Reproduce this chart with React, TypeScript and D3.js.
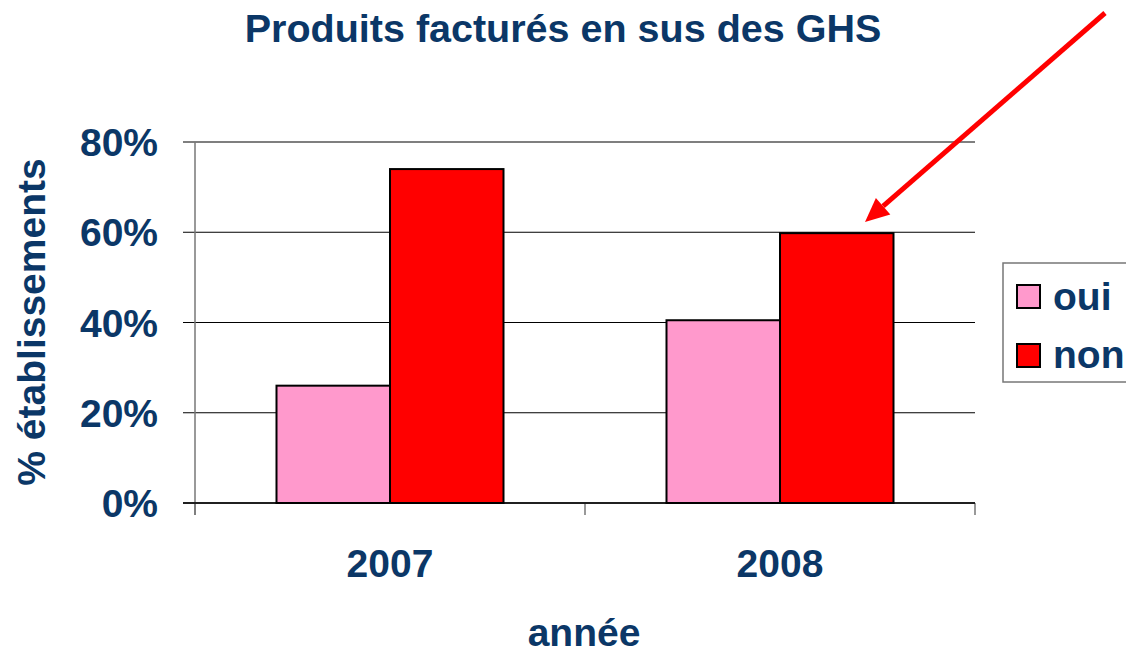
import React from "react";
import * as d3 from "d3";

const years = ["2007", "2008"];
const seriesNames = ["oui", "non"];
const ouiValues = [0.26, 0.405];
const nonValues = [0.74, 0.598];
const yTicks = [0, 0.2, 0.4, 0.6, 0.8];
const seriesColors = ["#ff99cc", "#ff0000"];

const W = 1126;
const H = 654;
const NAVY = "#0b3767";
const FONT = "'Liberation Sans', Arial, sans-serif";

export default function App() {
  const left = 195;
  const right = 975;
  const bottom = 503;
  const top = 142;
  const x0 = d3.scaleBand<string>().domain(years).range([left, right]).padding(0);
  const groupW = 227;
  const x1 = d3.scaleBand<string>().domain(seriesNames).range([0, groupW]).padding(0);
  const y = d3.scaleLinear().domain([0, 0.8]).range([bottom, top]);
  const fmt = d3.format(".0%");
  const values = [ouiValues, nonValues];

  const ax1 = 1105, ay1 = 13, ax2 = 865, ay2 = 222;
  const ang = Math.atan2(ay2 - ay1, ax2 - ax1);
  const headL = 24, headW = 11;
  const bx = ax2 - headL * Math.cos(ang);
  const by = ay2 - headL * Math.sin(ang);
  const px = -Math.sin(ang), py = Math.cos(ang);
  const head = `M${ax2},${ay2} L${bx + headW * px},${by + headW * py} L${bx - headW * px},${by - headW * py} Z`;

  return (
    <svg width={W} height={H} style={{ position: "absolute", left: 0, top: 0, background: "#fff" }} fontFamily={FONT}>
      <rect x={0} y={0} width={W} height={H} fill="#fff" />
      <text x={563} y={42} textAnchor="middle" fontSize={39.5} fontWeight="bold" fill={NAVY}>
        Produits facturés en sus des GHS
      </text>

      {/* gridlines */}
      {yTicks.map((t) => (
        <line key={t} x1={183} x2={right} y1={y(t)} y2={y(t)} stroke="#000" strokeWidth={1.2} />
      ))}
      {/* y axis */}
      <line x1={left} x2={left} y1={top} y2={515} stroke="#777" strokeWidth={1.5} />
      {/* x ticks */}
      {[left, x0("2008")!, right].map((xx, i) => (
        <line key={i} x1={xx} x2={xx} y1={bottom} y2={515} stroke="#777" strokeWidth={1.5} />
      ))}

      {/* bars */}
      {years.map((yr, i) => {
        const off = x0(yr)! + (x0.bandwidth() - groupW) / 2;
        return seriesNames.map((s, j) => (
          <rect
            key={yr + s}
            x={off + x1(s)!}
            y={y(values[j][i])}
            width={x1.bandwidth()}
            height={bottom - y(values[j][i])}
            fill={seriesColors[j]}
            stroke="#000"
            strokeWidth={2}
          />
        ));
      })}
      <line x1={183} x2={right} y1={bottom} y2={bottom} stroke="#000" strokeWidth={1.5} />

      {/* y tick labels */}
      {yTicks.map((t) => (
        <text key={t} x={158} y={y(t)} dy="0.36em" textAnchor="end" fontSize={39} fontWeight="bold" fill={NAVY}>
          {fmt(t)}
        </text>
      ))}
      {/* x labels */}
      {years.map((yr) => (
        <text key={yr} x={x0(yr)! + x0.bandwidth() / 2} y={577} textAnchor="middle" fontSize={39} fontWeight="bold" fill={NAVY}>
          {yr}
        </text>
      ))}
      <text x={584} y={646} textAnchor="middle" fontSize={39} fontWeight="bold" fill={NAVY}>
        année
      </text>
      <text transform={`translate(45,322) rotate(-90)`} textAnchor="middle" fontSize={39} fontWeight="bold" fill={NAVY}>
        % établissements
      </text>

      {/* legend */}
      <rect x={1003} y={263} width={140} height={119} fill="#fff" stroke="#777" strokeWidth={1.5} />
      {seriesNames.map((s, j) => (
        <g key={s}>
          <rect x={1017} y={285 + j * 59} width={23} height={23} fill={seriesColors[j]} stroke="#000" strokeWidth={2} />
          <text x={1053} y={310 + j * 58} fontSize={39} fontWeight="bold" fill={NAVY}>
            {s}
          </text>
        </g>
      ))}

      {/* arrow */}
      <line x1={ax1} y1={ay1} x2={bx} y2={by} stroke="#ff0000" strokeWidth={5} />
      <path d={head} fill="#ff0000" />
    </svg>
  );
}
